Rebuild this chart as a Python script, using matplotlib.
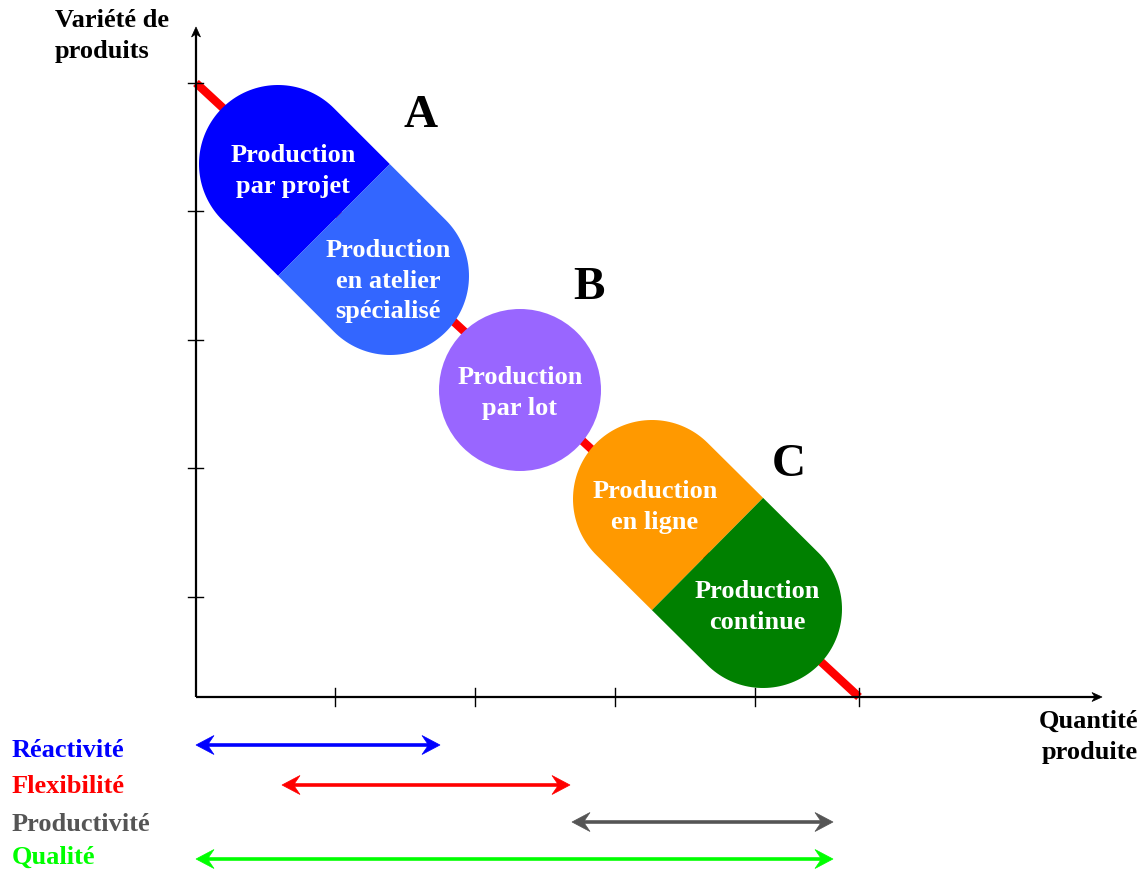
"""Diagramme produit-procédé : variété de produits vs quantité produite."""

import matplotlib
matplotlib.use("Agg")
import matplotlib.pyplot as plt
import numpy as np
from matplotlib.patches import Polygon, Circle

plt.rcParams["font.family"] = ["Liberation Serif", "DejaVu Serif"]
plt.rcParams["font.weight"] = "bold"

# ---- data (units: pixels from the origin, y upward) ----
x_ticks = [139, 279, 419, 559, 663]
y_ticks = [100, 229, 357, 486, 614]
x_axis_end = 906
y_axis_end = 670
trend_start = (0, 614)
trend_end = (663, 0)

# capsules: (centre of first cap, centre of second cap)
capsule_a = [(82, 533), (194, 421)]
capsule_c = [(456, 198), (567, 88)]
cap_radius = 79
batch_centre = (324, 307)
batch_radius = 81

process_names = ["Production\npar projet", "Production\nen atelier\nspécialisé",
                 "Production\npar lot", "Production\nen ligne",
                 "Production\ncontinue"]
process_pos = [(97, 527), (192, 417), (324, 305), (459, 191), (561, 91)]
process_colors = ["#0000ff", "#3366ff", "#9966ff", "#ff9900", "#008000"]

group_names = ["A", "B", "C"]
group_pos = [(225, 582), (393, 410), (593, 233)]

criteria = ["Réactivité", "Flexibilité", "Productivité", "Qualité"]
criteria_start = [0, 86, 376, 0]
criteria_end = [244, 374, 637, 637]
criteria_y = [-48, -88, -125, -162]
criteria_label_y = [-59, -95, -133, -166]
criteria_colors = ["#0000ff", "#ff0000", "#555555", "#00ff00"]


def stealth_head(ax, tip, direction, length, half_width, inset, color, z=5):
    d = np.asarray(direction, float)
    d = d / np.hypot(*d)
    n = np.array([-d[1], d[0]])
    tip = np.asarray(tip, float)
    base = tip - d * length
    pts = [tip, base + n * half_width, tip - d * (length - inset),
           base - n * half_width]
    ax.add_patch(Polygon(pts, closed=True, facecolor=color, edgecolor=color,
                         lw=0.5, zorder=z))


def half_capsule(c_from, c_to, r):
    """Half of a stadium shape: the cap round c_from plus the body up to the middle."""
    c1 = np.asarray(c_from, float)
    c2 = np.asarray(c_to, float)
    d = c2 - c1
    ang = np.arctan2(d[1], d[0])
    mid = (c1 + c2) / 2
    n = np.array([-np.sin(ang), np.cos(ang)])
    t = np.linspace(ang + np.pi / 2, ang + 3 * np.pi / 2, 80)
    arc = np.column_stack([c1[0] + r * np.cos(t), c1[1] + r * np.sin(t)])
    pts = np.vstack([mid + r * n, arc, mid - r * n])
    return pts


def main():
    fig = plt.figure(figsize=(11.47, 8.70), dpi=100)
    ax = fig.add_axes([0, 0, 1, 1])
    ax.set_xlim(-196, 951)
    ax.set_ylim(-172, 698)
    ax.axis("off")

    # axes with arrow heads
    ax.plot([0, 0], [0, y_axis_end - 4], color="k", lw=1.6, zorder=3,
            solid_capstyle="butt")
    ax.plot([0, x_axis_end - 4], [0, 0], color="k", lw=1.6, zorder=3,
            solid_capstyle="butt")
    stealth_head(ax, (0, y_axis_end), (0, 1), 10, 4.5, 3, "k")
    stealth_head(ax, (x_axis_end, 0), (1, 0), 10, 4.5, 3, "k")
    for yt in y_ticks:
        ax.plot([-8, 7], [yt, yt], color="k", lw=1.0, zorder=3)
    for xt in x_ticks:
        ax.plot([xt, xt], [-9, 9], color="k", lw=1.0, zorder=3)

    # trend line
    ax.plot([trend_start[0], trend_end[0]], [trend_start[1], trend_end[1]],
            color="#ff0000", lw=6, solid_capstyle="butt", zorder=2)

    # capsules and circle
    ax.add_patch(Polygon(half_capsule(capsule_a[0], capsule_a[1], cap_radius),
                         facecolor=process_colors[0], edgecolor="none", zorder=4))
    ax.add_patch(Polygon(half_capsule(capsule_a[1], capsule_a[0], cap_radius),
                         facecolor=process_colors[1], edgecolor="none", zorder=4))
    ax.add_patch(Circle(batch_centre, batch_radius, facecolor=process_colors[2],
                        edgecolor="none", zorder=4))
    ax.add_patch(Polygon(half_capsule(capsule_c[0], capsule_c[1], cap_radius),
                         facecolor=process_colors[3], edgecolor="none", zorder=4))
    ax.add_patch(Polygon(half_capsule(capsule_c[1], capsule_c[0], cap_radius),
                         facecolor=process_colors[4], edgecolor="none", zorder=4))

    for name, (px, py) in zip(process_names, process_pos):
        ax.text(px, py, name, color="white", fontsize=19, fontweight="bold",
                ha="center", va="center", linespacing=1.42, zorder=6)

    for name, (gx, gy) in zip(group_names, group_pos):
        ax.text(gx, gy, name, color="k", fontsize=34, fontweight="bold",
                ha="center", va="center", zorder=6)

    # axis titles
    ax.text(-141, 662, "Variété de\nproduits", fontsize=19, fontweight="bold",
            ha="left", va="center", linespacing=1.42)
    ax.text(942, -39, "Quantité\nproduite", fontsize=19, fontweight="bold",
            ha="right", va="center", linespacing=1.42)

    # criteria ranges
    for name, x0, x1, yy, ly, col in zip(criteria, criteria_start, criteria_end,
                                         criteria_y, criteria_label_y,
                                         criteria_colors):
        ax.plot([x0 + 10, x1 - 10], [yy, yy], color=col, lw=2.6,
                solid_capstyle="butt", zorder=4)
        stealth_head(ax, (x0, yy), (-1, 0), 18, 9.5, 6.5, col)
        stealth_head(ax, (x1, yy), (1, 0), 18, 9.5, 6.5, col)
        ax.text(-184, ly, name, color=col, fontsize=19, fontweight="bold",
                ha="left", va="baseline")

    fig.savefig("out.png", dpi=100)
    plt.close(fig)


if __name__ == "__main__":
    main()
